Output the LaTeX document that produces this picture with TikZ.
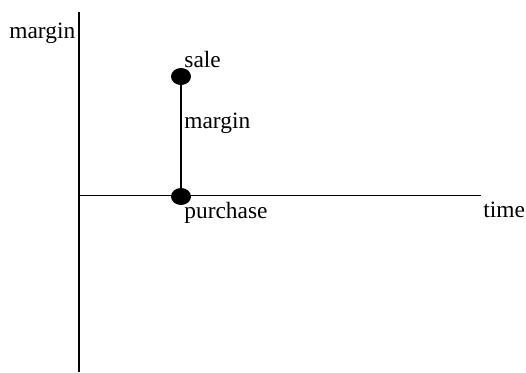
\documentclass[tikz,border=0pt]{standalone}
\usepackage{fontspec}
\setmainfont{Liberation Serif}
\usetikzlibrary{shapes.geometric}
\begin{document}
\begin{tikzpicture}[x=0.5pt,y=-0.5pt,
  axis/.style={line width=0.75pt, black},
  dot/.style={ellipse, fill=black, draw=none, inner sep=0pt, minimum width=10pt, minimum height=8.5pt},
  lbl/.style={anchor=base west, inner sep=0pt, font=\fontsize{11.7}{13}\selectfont}]
  \useasboundingbox (0,0) rectangle (526,372);
  % axes
  \coordinate (ytop) at (79,12);
  \coordinate (ybot) at (79,372);
  \coordinate (xl) at (79,195.5);
  \coordinate (xr) at (481,195.5);
  \draw[axis] (ytop) -- (ybot);
  \draw[axis] (xl) -- (xr);
  % the two points
  \node[dot] (sale) at (181,76.5) {};
  \node[dot] (purchase) at (181,196.5) {};
  \draw[axis] (sale.center) -- (purchase.center);
  % labels
  \node[lbl] (ylabel) at (9,38) {margin};
  \node[lbl] (xlabel) at (483,217) {time};
  \node[lbl] (salelbl) at (184,67) {sale};
  \node[lbl] (marginlbl) at (184,128) {margin};
  \node[lbl] (purchlbl) at (184,218) {purchase};
\end{tikzpicture}
\end{document}
